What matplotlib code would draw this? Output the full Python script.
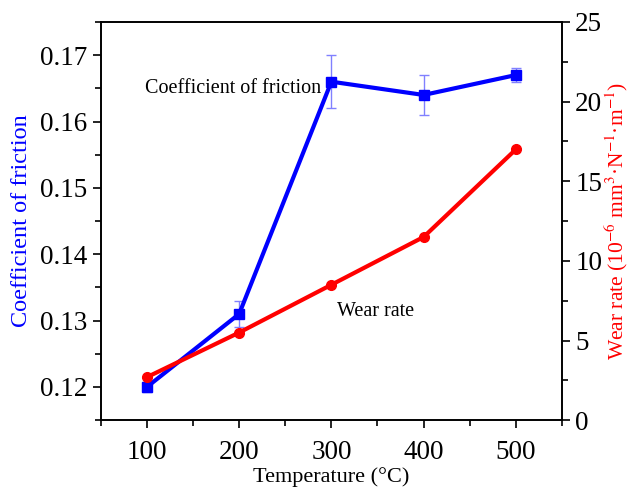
import matplotlib
matplotlib.use("Agg")
import matplotlib.pyplot as plt
from matplotlib.ticker import MultipleLocator

temperature = [100, 200, 300, 400, 500]
cof = [0.120, 0.131, 0.166, 0.164, 0.167]
cof_err = [0.0008, 0.002, 0.004, 0.003, 0.001]
wear_rate = [2.7, 5.5, 8.5, 11.5, 17.0]

plt.rcParams['font.family'] = ['Liberation Serif', 'DejaVu Serif']
plt.rcParams['mathtext.fontset'] = 'stix'

fig = plt.figure(figsize=(6.3, 4.88), dpi=100)
ax = fig.add_axes([0.160, 0.139, 0.732, 0.816])
ax2 = ax.twinx()

ax.errorbar(temperature, cof, yerr=cof_err, color='#0000ff', lw=3, marker='s', ms=6.5,
            ecolor='#8080ff', elinewidth=1, capsize=3.5, capthick=1, zorder=3)
ax2.plot(temperature, wear_rate, color='#ff0000', lw=3, marker='o', ms=7, zorder=3)

ax.set_xlim(50, 550)
ax.set_ylim(0.115, 0.175)
ax2.set_ylim(0, 25)

ax.xaxis.set_major_locator(MultipleLocator(100))
ax.xaxis.set_minor_locator(MultipleLocator(50))
ax.yaxis.set_major_locator(MultipleLocator(0.01))
ax.yaxis.set_minor_locator(MultipleLocator(0.005))
ax2.yaxis.set_major_locator(MultipleLocator(5))
ax2.yaxis.set_minor_locator(MultipleLocator(2.5))
ax.yaxis.set_major_formatter(matplotlib.ticker.FormatStrFormatter('%.2f'))

for a in (ax, ax2):
    a.tick_params(which='major', direction='out', length=6, width=1.2, labelsize=19.5)
    a.tick_params(which='minor', direction='out', length=4, width=1.2)
    for s in a.spines.values():
        s.set_linewidth(1.2)
ax.tick_params(axis='x', which='major', pad=8)

ax.set_xlabel('Temperature (°C)', fontsize=16, labelpad=2)
ax.set_ylabel('Coefficient of friction', fontsize=17.5, color='#0000ff', labelpad=6)
ax2.set_ylabel('Wear rate (10$^{-6}$ mm$^{3}$·N$^{-1}$·m$^{-1}$)', fontsize=15.5,
               color='#ff0000', labelpad=0)

ax.text(98, 0.165, 'Coefficient of friction', fontsize=14.5, va='center', ha='left')
ax2.text(306, 6.8, 'Wear rate', fontsize=14.5, va='center', ha='left')

fig.savefig('out.png', dpi=100)
